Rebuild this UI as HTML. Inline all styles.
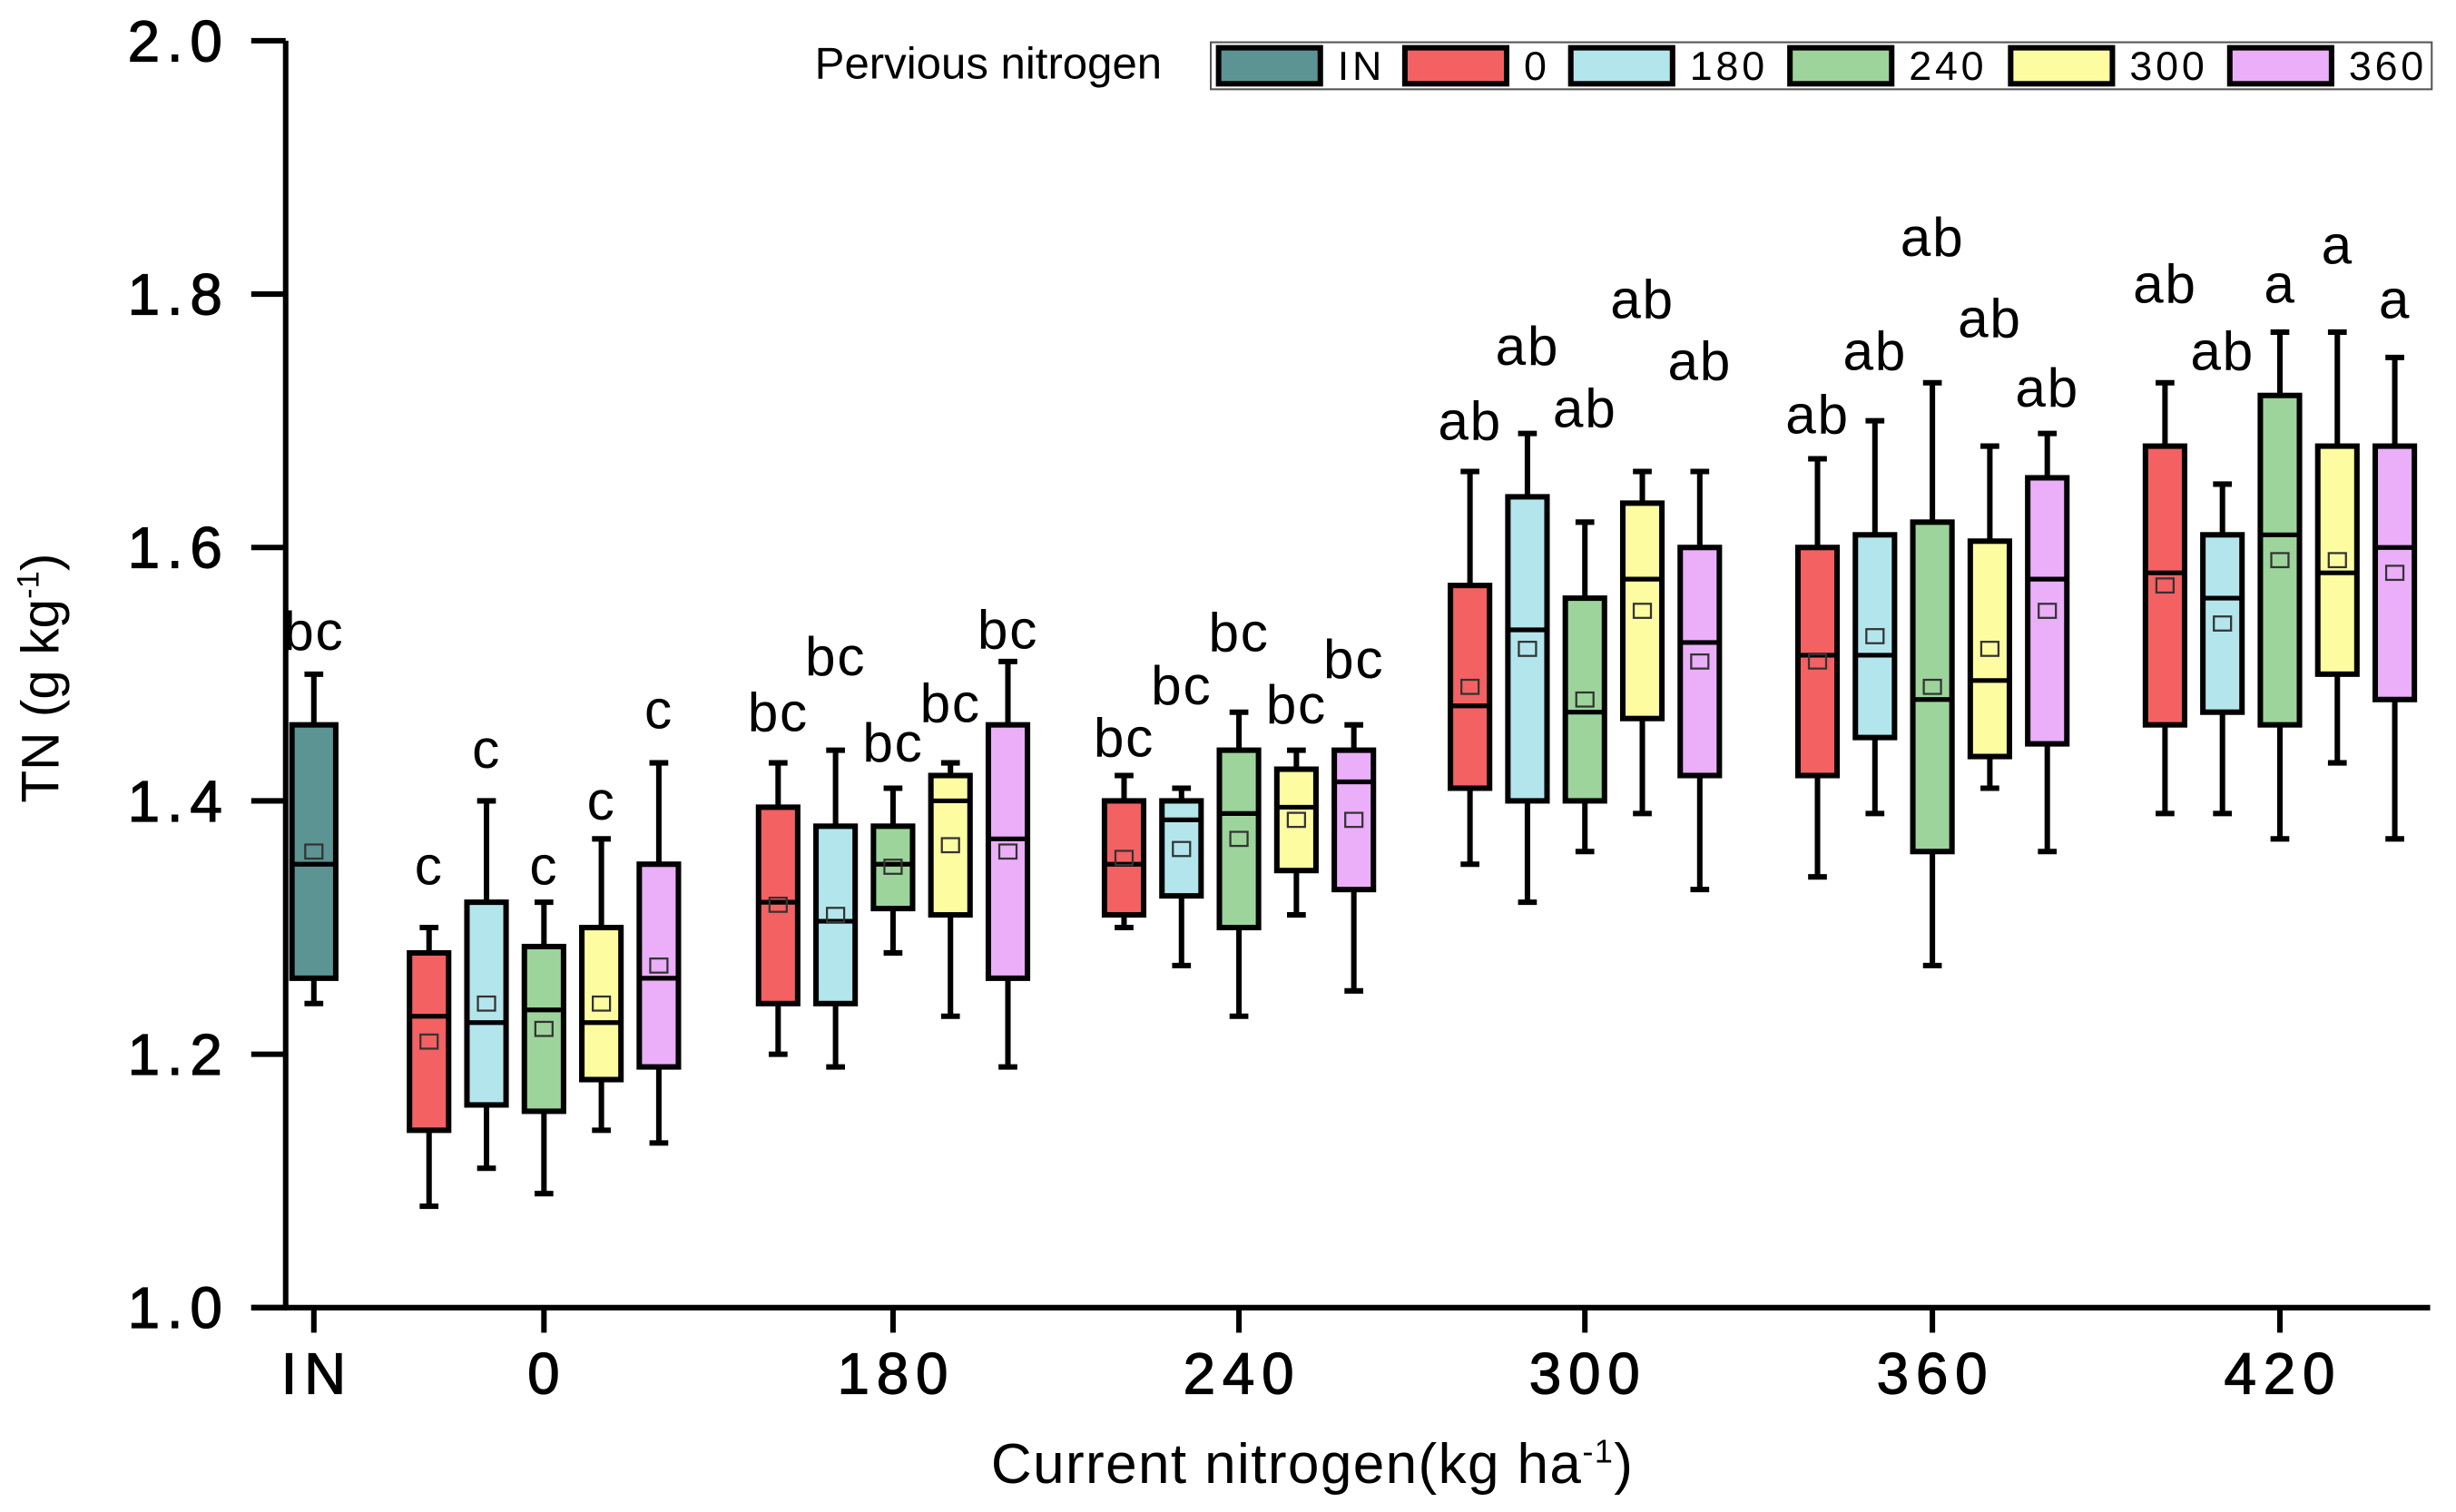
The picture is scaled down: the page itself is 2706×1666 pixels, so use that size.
<!DOCTYPE html>
<html><head><meta charset="utf-8"><style>
html,body{margin:0;padding:0;background:#fff;}
svg{display:block;font-family:"Liberation Sans",Arial,sans-serif;}
</style></head><body>
<svg id="chart" width="2706" height="1666" viewBox="-0.5 -1 1569 965.5" preserveAspectRatio="none" xmlns="http://www.w3.org/2000/svg">
<g id="axes"></g>
<g id="boxes"></g>
<g id="legend"></g>
</svg>
<script>
const groups = ["IN","0","180","240","300","360","420"];
const series = ["IN","0","180","240","300","360"];
const colors = ["#5b9493","#f36163","#b3e6ec","#9dd49b","#fdfca1","#ebaef9"];
const yTicks = [1.0,1.2,1.4,1.6,1.8,2.0];
// each row: [groupIndex, seriesIndex, min, q1, median, q3, max, mean, labelY, label]
const boxStats = [
[0,0,1.24,1.26,1.35,1.46,1.50,1.36,1.534,"bc"],
[1,1,1.08,1.14,1.23,1.28,1.30,1.21,1.349,"c"],
[1,2,1.11,1.16,1.225,1.32,1.40,1.24,1.441,"c"],
[1,3,1.09,1.155,1.235,1.285,1.32,1.22,1.349,"c"],
[1,4,1.14,1.18,1.225,1.30,1.37,1.24,1.400,"c"],
[1,5,1.13,1.19,1.26,1.35,1.43,1.27,1.472,"c"],
[2,1,1.20,1.24,1.32,1.395,1.43,1.318,1.470,"bc"],
[2,2,1.19,1.24,1.305,1.38,1.44,1.31,1.514,"bc"],
[2,3,1.28,1.315,1.35,1.38,1.41,1.348,1.446,"bc"],
[2,4,1.23,1.31,1.40,1.42,1.43,1.365,1.477,"bc"],
[2,5,1.19,1.26,1.37,1.46,1.51,1.36,1.535,"bc"],
[3,1,1.30,1.31,1.35,1.40,1.42,1.355,1.450,"bc"],
[3,2,1.27,1.325,1.385,1.40,1.41,1.362,1.491,"bc"],
[3,3,1.23,1.30,1.39,1.44,1.47,1.37,1.533,"bc"],
[3,4,1.31,1.345,1.395,1.425,1.44,1.385,1.476,"bc"],
[3,5,1.25,1.33,1.415,1.44,1.46,1.385,1.512,"bc"],
[4,1,1.35,1.41,1.475,1.57,1.66,1.49,1.700,"ab"],
[4,2,1.32,1.40,1.535,1.64,1.69,1.52,1.759,"ab"],
[4,3,1.36,1.40,1.47,1.56,1.62,1.48,1.710,"ab"],
[4,4,1.39,1.465,1.575,1.635,1.66,1.55,1.796,"ab"],
[4,5,1.33,1.42,1.525,1.60,1.66,1.51,1.747,"ab"],
[5,1,1.34,1.42,1.515,1.60,1.67,1.51,1.705,"ab"],
[5,2,1.39,1.45,1.515,1.61,1.70,1.53,1.755,"ab"],
[5,3,1.27,1.36,1.48,1.62,1.73,1.49,1.845,"ab"],
[5,4,1.41,1.435,1.495,1.605,1.68,1.52,1.781,"ab"],
[5,5,1.36,1.445,1.575,1.655,1.69,1.55,1.726,"ab"],
[6,1,1.39,1.46,1.58,1.68,1.73,1.57,1.808,"ab"],
[6,2,1.39,1.47,1.56,1.61,1.65,1.54,1.755,"ab"],
[6,3,1.37,1.46,1.61,1.72,1.77,1.59,1.808,"a"],
[6,4,1.43,1.50,1.58,1.68,1.77,1.59,1.839,"a"],
[6,5,1.37,1.48,1.60,1.68,1.75,1.58,1.796,"a"]
];
const NS="http://www.w3.org/2000/svg";
function el(tag,attrs,parent,text){const e=document.createElementNS(NS,tag);for(const k in attrs)e.setAttribute(k,attrs[k]);if(text!==undefined)e.textContent=text;parent.appendChild(e);return e;}
const y0=834,y1=25;
function yScale(v){return y0-(v-1.0)*(y0-y1)/1.0;}
const groupX=[200,347,570,791,1012,1234,1456];
function xScale(g,s){if(g===0)return groupX[0];return groupX[g]+(s-3)*36.7;}
const axes=document.getElementById('axes');
let e;
e=el('line',{x1:182,y1:y1,x2:182,y2:y0+1.8,stroke:'#000','stroke-width':3.5},axes);


e=el('line',{x1:160,y1:y0,x2:1552,y2:y0,stroke:'#000','stroke-width':3.5},axes);


yTicks.forEach(t=>{
 const y=yScale(t);
 const l=el('line',{x1:160,y1:y,x2:182,y2:y,stroke:'#000','stroke-width':3.5},axes);
 
 
 const tx=el('text',{x:146,y:y+13,'text-anchor':'end','font-size':37,'letter-spacing':'4.5',stroke:'#000','stroke-width':0.7},axes,t.toFixed(1));
 
 
});
groups.forEach((g,i)=>{
 const x=groupX[i];
 const l=el('line',{x1:x,y1:y0,x2:x,y2:y0+16,stroke:'#000','stroke-width':3.5},axes);
 
 
 const tx=el('text',{x:x+2,y:889,'text-anchor':'middle','font-size':37,'letter-spacing':'4.5',stroke:'#000','stroke-width':0.7},axes,g);
 
 
});
e=el('text',{x:838,y:946,'text-anchor':'middle','font-size':36,'letter-spacing':'0.8'},axes);


e.innerHTML='Current nitrogen(kg ha<tspan font-size="21" dy="-13">-1</tspan><tspan dy="13">)</tspan>';
e=el('text',{x:0,y:0,'text-anchor':'middle','font-size':34,transform:'translate(37,432) rotate(-90)'},axes);


e.innerHTML='TN (g kg<tspan font-size="20" dy="-13">-1</tspan><tspan dy="13">)</tspan>';
const boxes=document.getElementById('boxes');
boxStats.forEach(r=>{
 const [g,s,mn,q1,md,q3,mx,mean,ly,lab]=r;
 const x=xScale(g,s),w=g===0?28:25;
 const gr=el('g',{},boxes);
 
 
 el('line',{x1:x,y1:yScale(mx),x2:x,y2:yScale(mn),stroke:'#000','stroke-width':3.5},gr);
 el('line',{x1:x-6,y1:yScale(mx),x2:x+6,y2:yScale(mx),stroke:'#000','stroke-width':3.5},gr);
 el('line',{x1:x-6,y1:yScale(mn),x2:x+6,y2:yScale(mn),stroke:'#000','stroke-width':3.5},gr);
 el('rect',{x:x-w/2,y:yScale(q3),width:w,height:yScale(q1)-yScale(q3),fill:colors[s],stroke:'#000','stroke-width':3.5},gr);
 el('line',{x1:x-w/2,y1:yScale(md),x2:x+w/2,y2:yScale(md),stroke:'#000','stroke-width':3},gr);
 el('rect',{x:x-5.5,y:yScale(mean)-4.5,width:11,height:9,fill:'none',stroke:'#333','stroke-width':1.3},gr);
 const t=el('text',{x:x,y:yScale(ly)+12,'text-anchor':'middle','font-size':35,'letter-spacing':'1'},gr,lab);
 
 
});
const lg=document.getElementById('legend');
e=el('text',{x:520,y:49,'font-size':28.5},lg,'Pervious nitrogen');


e=el('rect',{x:773,y:26,width:780,height:30,fill:'#fff',stroke:'#555','stroke-width':1.2},lg);


const swX=[778,897,1003,1143,1284,1424];
series.forEach((s,i)=>{
 const gr=el('g',{},lg);
 
 
 el('rect',{x:swX[i],y:29.5,width:65,height:23,fill:colors[i],stroke:'#000','stroke-width':3.5},gr);
 el('text',{x:swX[i]+76,y:50,'font-size':26,'letter-spacing':'2.2'},gr,s);
});
</script>
</body></html>
